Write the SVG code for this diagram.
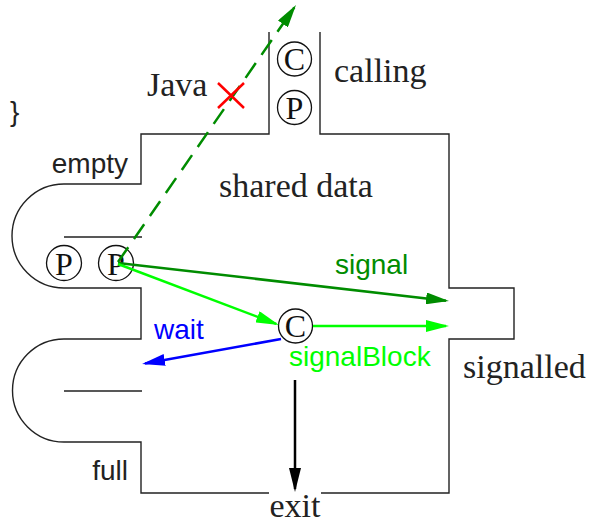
<svg xmlns="http://www.w3.org/2000/svg" width="602" height="523" viewBox="0 0 602 523">
<style>
.wall{fill:none;stroke:#222;stroke-width:1.4}
.node circle{fill:none;stroke:#111;stroke-width:1.3}
.node text{font-family:"Liberation Serif",serif;font-size:32px;fill:#111;text-anchor:middle}
.serif{font-family:"Liberation Serif",serif;font-size:34px;fill:#222}
.sans{font-family:"Liberation Sans",Arial,sans-serif;font-size:28px;fill:#222}
.conn{fill:none;stroke-width:2.5}
</style>
<defs>
<marker id="aDG" viewBox="0 0 23 12" refX="20" refY="6" markerWidth="23" markerHeight="12" markerUnits="userSpaceOnUse" orient="auto"><path d="M0,0 L23,6 L0,12 z" fill="#008c00"/></marker>
<marker id="aLG" viewBox="0 0 23 12" refX="20" refY="6" markerWidth="23" markerHeight="12" markerUnits="userSpaceOnUse" orient="auto"><path d="M0,0 L23,6 L0,12 z" fill="#00ff00"/></marker>
<marker id="aB" viewBox="0 0 23 12" refX="20" refY="6" markerWidth="23" markerHeight="12" markerUnits="userSpaceOnUse" orient="auto"><path d="M0,0 L23,6 L0,12 z" fill="#0000ff"/></marker>
<marker id="aK" viewBox="0 0 24 12" refX="21" refY="6" markerWidth="24" markerHeight="12" markerUnits="userSpaceOnUse" orient="auto"><path d="M0,0 L24,6 L0,12 z" fill="#000"/></marker>
</defs>
<rect width="602" height="523" fill="#fff"/>
<g id="monitor">
<path class="wall" d="M269 32 V134 H141 V184 H64 A52 52 0 0 0 64 288 H141 V339 H64 A51.5 51.5 0 0 0 64 442 H141 V493 H269"/>
<path class="wall" d="M321 493 H449 V339 H514 V288 H449 V134 H320 V32"/>
<path class="wall" d="M64 237 H142 M64 391 H142"/>
</g>
<g id="labels">
<text class="sans" x="10" y="121">}</text>
<text class="serif" x="147" y="96">Java</text>
<text class="serif" x="334" y="82">calling</text>
<text class="serif" x="219" y="197">shared data</text>
<text class="serif" x="463" y="378">signalled</text>
<text class="serif" x="295" y="517" text-anchor="middle">exit</text>
<text class="sans" x="128" y="173" text-anchor="end">empty</text>
<text class="sans" x="128" y="480" text-anchor="end">full</text>
</g>
<g id="nodeC1" class="node"><circle cx="294.5" cy="59" r="17"/><text x="294.5" y="70">C</text></g>
<g id="nodeP1" class="node"><circle cx="294.5" cy="107.5" r="17"/><text x="294.5" y="118.5">P</text></g>
<g id="nodeP2" class="node"><circle cx="64" cy="263" r="17.5"/><text x="64" y="274.5">P</text></g>
<g id="nodeP3" class="node"><circle cx="116" cy="263" r="17.5"/><text x="116" y="274.5">P</text></g>
<g id="nodeC2" class="node"><circle cx="295.5" cy="326" r="17"/><text x="295.5" y="337">C</text></g>
<g id="connectors">
<path class="conn" d="M118 262 L294.3 7.5" stroke="#008c00" stroke-dasharray="18 10" marker-end="url(#aDG)"/>
<path class="conn" d="M118 263 L446 300.7" stroke="#008c00" marker-end="url(#aDG)"/>
<path class="conn" d="M118 264 L276.2 323.9" stroke="#00ff00" marker-end="url(#aLG)"/>
<path class="conn" d="M313 326 L446 326" stroke="#00ff00" marker-end="url(#aLG)"/>
<path class="conn" d="M281 339 L145 363.5" stroke="#0000ff" marker-end="url(#aB)"/>
<path class="conn" d="M295 380 L295 489" stroke="#000" stroke-width="2" marker-end="url(#aK)"/>
<path d="M218 83 L244 108 M218 108 L244 83" stroke="#ff0000" stroke-width="2.5" fill="none"/>
<text class="sans" x="335" y="274" style="fill:#008c00">signal</text>
<text class="sans" x="289" y="366" style="fill:#00ff00">signalBlock</text>
<text class="sans" x="154" y="339" style="fill:#0000ff">wait</text>
</g>
</svg>
